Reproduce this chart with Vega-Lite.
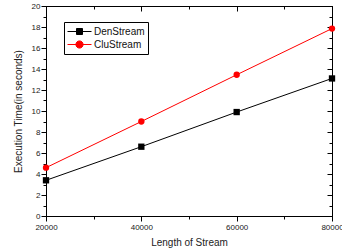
{
  "$schema": "https://vega.github.io/schema/vega-lite/v6.json",
  "autosize": "none",
  "width": 286,
  "height": 210,
  "padding": {"left": 46, "top": 6, "right": 10, "bottom": 36},
  "config": {
    "view": {"stroke": "black", "strokeWidth": 1},
    "font": "Liberation Sans",
    "axis": {"domainColor": "black", "tickColor": "black", "labelColor": "#222", "titleColor": "#222", "grid": false, "labelFontSize": 8, "titleFontSize": 10, "titleFontWeight": "normal", "labelFont": "Liberation Sans", "titleFont": "Liberation Sans"}
  },
  "data": {"values": [
    {"len": 20000, "time": 3.4, "series": "DenStream"},
    {"len": 40000, "time": 6.6, "series": "DenStream"},
    {"len": 60000, "time": 9.9, "series": "DenStream"},
    {"len": 80000, "time": 13.1, "series": "DenStream"},
    {"len": 20000, "time": 4.6, "series": "CluStream"},
    {"len": 40000, "time": 9.0, "series": "CluStream"},
    {"len": 60000, "time": 13.45, "series": "CluStream"},
    {"len": 80000, "time": 17.85, "series": "CluStream"}
  ]},
  "resolve": {"axis": {"x": "independent", "y": "independent"}},
  "layer": [
    {
      "mark": {"type": "line", "strokeWidth": 1, "clip": false},
      "encoding": {
        "x": {"field": "len", "type": "quantitative", "scale": {"domain": [20000, 80000], "nice": false, "zero": false},
          "axis": {"title": "Length of Stream", "values": [20000, 30000, 40000, 50000, 60000, 70000, 80000], "labelExpr": "datum.value % 20000 === 0 ? datum.value : ''", "tickSize": {"condition": {"test": "datum.value % 20000 === 0", "value": 5}, "value": 3}, "labelPadding": 2, "titlePadding": 6, "labelFlush": false, "labelOverlap": false}},
        "y": {"field": "time", "type": "quantitative", "scale": {"domain": [0, 20], "nice": false},
          "axis": {"title": "Execution Time(in seconds)", "values": [0,1,2,3,4,5,6,7,8,9,10,11,12,13,14,15,16,17,18,19,20], "labelExpr": "datum.value % 2 === 0 ? datum.value : ''", "tickSize": {"condition": {"test": "datum.value % 2 === 0", "value": 5}, "value": 3}, "labelPadding": 1, "titlePadding": 8, "labelFlush": false, "labelOverlap": false}},
        "color": {"field": "series", "type": "nominal", "scale": {"domain": ["DenStream", "CluStream"], "range": ["black", "#ff0000"]}},
        "detail": {"field": "series"}
      }
    },
    {
      "mark": {"type": "point", "filled": true, "opacity": 1, "clip": false},
      "encoding": {
        "x": {"field": "len", "type": "quantitative",
          "axis": {"orient": "top", "title": null, "labels": false, "values": [20000, 30000, 40000, 50000, 60000, 70000, 80000], "tickSize": {"condition": {"test": "datum.value % 20000 === 0", "value": -5}, "value": -3}}},
        "y": {"field": "time", "type": "quantitative",
          "axis": {"orient": "right", "title": null, "labels": false, "values": [0,1,2,3,4,5,6,7,8,9,10,11,12,13,14,15,16,17,18,19,20], "tickSize": {"condition": {"test": "datum.value % 2 === 0", "value": -5}, "value": -3}}},
        "color": {"field": "series", "type": "nominal"},
        "shape": {"condition": {"test": "datum.series === 'DenStream'", "value": "square"}, "value": "circle"},
        "size": {"value": 40}
      }
    },
    {
      "transform": [{"filter": "false"}],
      "mark": {"type": "point", "filled": true, "opacity": 1},
      "encoding": {
        "x": {"field": "len", "type": "quantitative", "axis": null},
        "y": {"field": "time", "type": "quantitative", "axis": null},
        "color": {"field": "series", "type": "nominal",
          "legend": {"title": null, "orient": "none", "legendX": 18, "legendY": 16, "strokeColor": "black", "padding": 3, "labelFontSize": 10, "labelColor": "#111", "labelFont": "Liberation Sans", "symbolSize": 144, "symbolStrokeWidth": 1, "symbolOpacity": 1, "rowPadding": 1, "labelOffset": 14}},
        "shape": {"field": "series", "type": "nominal",
          "scale": {"domain": ["DenStream", "CluStream"], "range": ["M-1,0H3M0.5,-0.5H1.5V0.5H0.5Z", "M-1,0H3M0.4,0A0.6,0.6 0 1,0 1.6,0A0.6,0.6 0 1,0 0.4,0Z"]},
          "legend": {"title": null, "orient": "none", "legendX": 18, "legendY": 16, "strokeColor": "black", "padding": 3, "labelFontSize": 10, "labelColor": "#111", "labelFont": "Liberation Sans", "symbolSize": 144, "symbolStrokeWidth": 1, "symbolOpacity": 1, "rowPadding": 1, "labelOffset": 14}},
        "size": {"value": 144}
      }
    }
  ]
}
